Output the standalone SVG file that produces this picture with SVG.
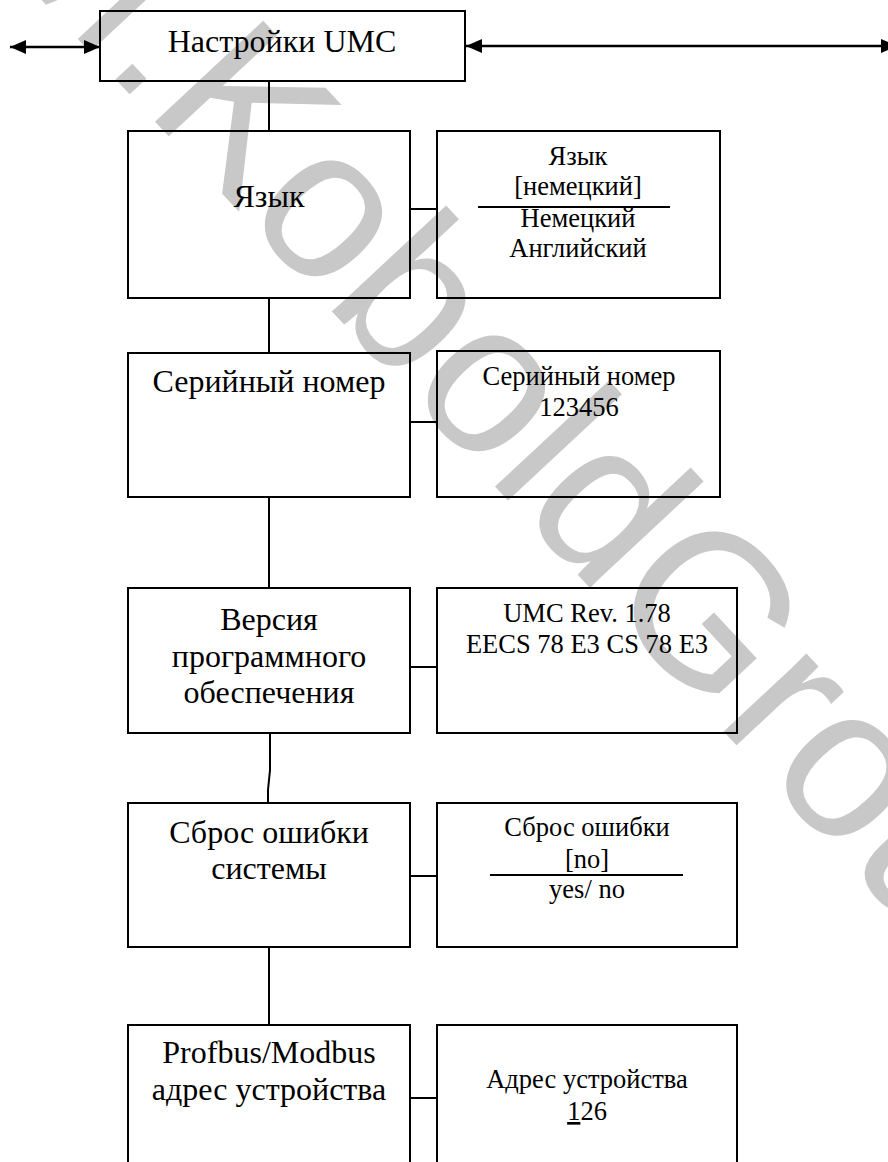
<svg xmlns="http://www.w3.org/2000/svg" width="888" height="1162" viewBox="0 0 888 1162">
<style>
  .box { fill: none; stroke: #000; stroke-width: 2; }
  .ln { stroke: #000; stroke-width: 2; fill: none; }
  .arr { stroke: #000; stroke-width: 2.5; fill: none; }
  .t { font-family: 'Liberation Serif', 'Times New Roman', serif; fill: #000; text-anchor: middle; }
  .big { font-size: 32px; }
  .l { font-size: 32px; }
  .r { font-size: 26.5px; }
  .wm { font-family: 'Liberation Sans', Arial, sans-serif; font-size: 215px; fill: #c8c8c8; }
</style>
<defs>
  <marker id="ah" viewBox="0 0 16 14" refX="16" refY="7" markerWidth="16" markerHeight="14" markerUnits="userSpaceOnUse" orient="auto-start-reverse">
    <path d="M0,0 L16,7 L0,14 z" fill="#000"/>
  </marker>
</defs>
<rect width="888" height="1162" fill="#fff"/>
<text class="wm" transform="translate(-20,-66) rotate(47)">M.KoboldGroup</text>

<g id="connectors">
  <line class="arr" x1="10" y1="47" x2="100" y2="47" marker-start="url(#ah)" marker-end="url(#ah)"/>
  <line class="arr" x1="466" y1="46" x2="897" y2="46" marker-start="url(#ah)" marker-end="url(#ah)"/>
  <line class="ln" x1="269" y1="81" x2="269" y2="131"/>
  <line class="ln" x1="269" y1="298" x2="269" y2="353"/>
  <line class="ln" x1="269" y1="497" x2="269" y2="588"/>
  <polyline class="ln" points="270,733 270,770 268,790 268,803"/>
  <line class="ln" x1="269" y1="947" x2="269" y2="1025"/>
  <line class="ln" x1="410" y1="209" x2="437" y2="209"/>
  <line class="ln" x1="410" y1="422" x2="437" y2="422"/>
  <line class="ln" x1="410" y1="667" x2="437" y2="667"/>
  <line class="ln" x1="410" y1="876" x2="437" y2="876"/>
  <line class="ln" x1="410" y1="1098" x2="437" y2="1098"/>
</g>

<g id="n-settings">
  <rect class="box" x="100" y="11" width="365" height="70"/>
  <text class="t big" x="282" y="52">Настройки UMC</text>
</g>

<g id="n-lang">
  <rect class="box" x="128" y="131" width="282" height="167"/>
  <text class="t l" x="269" y="207">Язык</text>
</g>
<g id="n-lang-val">
  <rect class="box" x="437" y="131" width="283" height="167"/>
  <text class="t r" x="578" y="165">Язык</text>
  <text class="t r" x="578" y="195">[немецкий]</text>
  <line class="ln" x1="478" y1="207" x2="670" y2="207"/>
  <text class="t r" x="578" y="227">Немецкий</text>
  <text class="t r" x="578" y="257">Английский</text>
</g>

<g id="n-serial">
  <rect class="box" x="128" y="353" width="282" height="144"/>
  <text class="t l" x="269" y="392">Серийный номер</text>
</g>
<g id="n-serial-val">
  <rect class="box" x="437" y="351" width="283" height="146"/>
  <text class="t r" x="579" y="385">Серийный номер</text>
  <text class="t r" x="579" y="416">123456</text>
</g>

<g id="n-version">
  <rect class="box" x="128" y="588" width="282" height="145"/>
  <text class="t l" x="269" y="630">Версия</text>
  <text class="t l" x="269" y="667">программного</text>
  <text class="t l" x="269" y="703">обеспечения</text>
</g>
<g id="n-version-val">
  <rect class="box" x="437" y="588" width="300" height="145"/>
  <text class="t r" x="587" y="622">UMC Rev. 1.78</text>
  <text class="t r" x="587" y="653">EECS 78 E3 CS 78 E3</text>
</g>

<g id="n-reset">
  <rect class="box" x="128" y="803" width="282" height="144"/>
  <text class="t l" x="269" y="843">Сброс ошибки</text>
  <text class="t l" x="269" y="879">системы</text>
</g>
<g id="n-reset-val">
  <rect class="box" x="437" y="803" width="300" height="144"/>
  <text class="t r" x="587" y="836">Сброс ошибки</text>
  <text class="t r" x="587" y="868">[no]</text>
  <line class="ln" x1="490" y1="875" x2="683" y2="875"/>
  <text class="t r" x="587" y="898">yes/ no</text>
</g>

<g id="n-address">
  <rect class="box" x="128" y="1025" width="282" height="160"/>
  <text class="t l" x="269" y="1063">Profbus/Modbus</text>
  <text class="t l" x="269" y="1100">адрес устройства</text>
</g>
<g id="n-address-val">
  <rect class="box" x="437" y="1025" width="300" height="160"/>
  <text class="t r" x="587" y="1088">Адрес устройства</text>
  <text class="t r" x="587" y="1120"><tspan text-decoration="underline">1</tspan>26</text>
</g>
</svg>
